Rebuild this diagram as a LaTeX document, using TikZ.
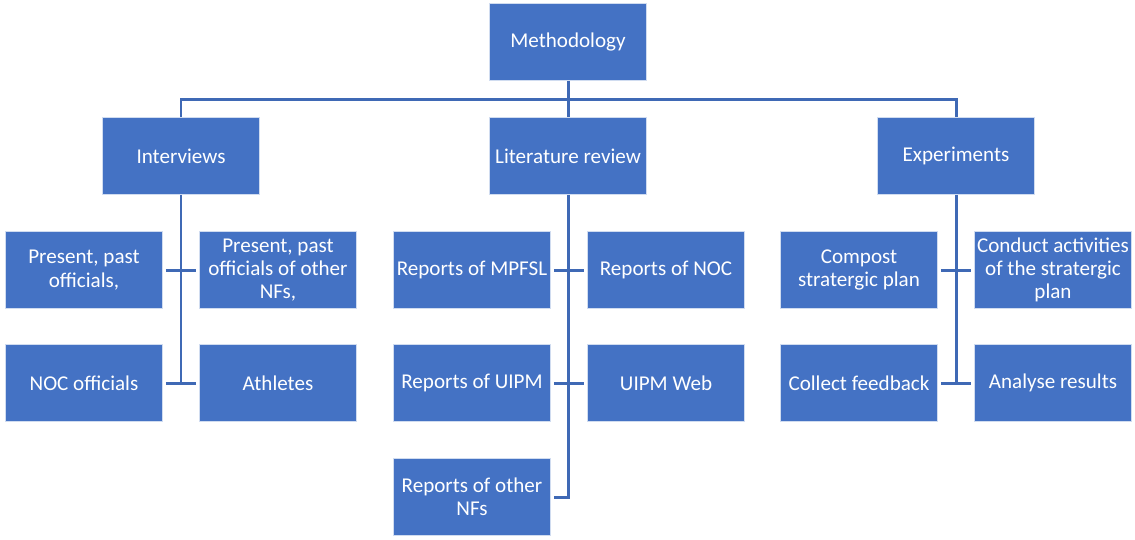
\documentclass[tikz,border=0pt]{standalone}
\usepackage{fontspec}
\setmainfont{Carlito}
\usetikzlibrary{positioning}
\definecolor{boxblue}{HTML}{4472C4}
\definecolor{lineblue}{HTML}{3F69B5}

\begin{document}
\begin{tikzpicture}[
    x=0.02cm, y=-0.02cm,
    node/.style={%
      draw=white!75!boxblue,
      line width=0.4pt,
      fill=boxblue,
      rectangle,
      minimum width=3.14cm,
      minimum height=1.54cm,
      text=white,
      align=center,
      inner sep=1pt,
      font=\fontsize{12}{13.2}\selectfont,
    },
    link/.style={%
      draw=lineblue,
      line width=1.7pt,
    },
    stub/.style={%
      link,
      shorten <=0.06cm,
      shorten >=0.06cm,
    },
  ]
    \useasboundingbox (0,0) rectangle (1135,539);

    \node [node] (M) at (568,42) {Methodology};
    \node [node] (I) at (181,156) {Interviews};
    \node [node] (L) at (568,156) {Literature review};
    \node [node] (E) at (956,156) {Experiments};

    \node [node] (I1) at (84,270) {Present, past\\officials,};
    \node [node] (I2) at (278,270) {Present, past\\officials of other\\NFs,};
    \node [node] (I3) at (84,383) {NOC officials};
    \node [node] (I4) at (278,383) {Athletes};

    \node [node] (L1) at (472,270) {Reports of MPFSL};
    \node [node] (L2) at (666,270) {Reports of NOC};
    \node [node] (L3) at (472,383) {Reports of UIPM};
    \node [node] (L4) at (666,383) {UIPM Web};
    \node [node] (L5) at (472,497) {Reports of other\\NFs};

    \node [node] (E1) at (859,270) {Compost\\stratergic plan};
    \node [node] (E2) at (1053,270) {Conduct activities\\of the stratergic\\plan};
    \node [node] (E3) at (859,383) {Collect feedback};
    \node [node] (E4) at (1053,383) {Analyse results};

    \coordinate (bus) at (568,99);
    \draw [link] (M) -- (bus);
    \draw [link] (I.north) |- (bus) -| (E.north);
    \draw [link] (bus) -- (L.north);

    \draw [link] (I.south) -- (I.south |- I3.east);
    \draw [stub] (I1.east) -- (I2.west);
    \draw [stub] (I3.east) -- (I4.west);

    \draw [link] (L.south) |- (L5.east) [shorten >=0.06cm];
    \draw [stub] (L1.east) -- (L2.west);
    \draw [stub] (L3.east) -- (L4.west);

    \draw [link] (E.south) -- (E.south |- E3.east);
    \draw [stub] (E1.east) -- (E2.west);
    \draw [stub] (E3.east) -- (E4.west);
\end{tikzpicture}
\end{document}
